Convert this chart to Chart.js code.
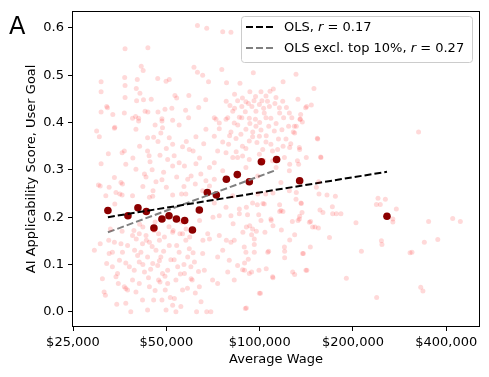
<!DOCTYPE html>
<html>
<head>
<meta charset="utf-8">
<script src="https://cdn.jsdelivr.net/npm/chart.js@4.4.0/dist/chart.umd.min.js"></script>
<style>
  body { margin: 0; background: #fff; }
  #wrap { width: 489px; height: 377px; }
</style>
</head>
<body>
<div id="wrap"><canvas id="chart" width="489" height="377"></canvas></div>
<script>
// occupations: [average wage in $k, AI applicability score]
const bgPoints = [
  [63,0.605],[67.5,0.599],[36.8,0.556],[43.6,0.558],[41.5,0.519],[42.1,0.510],[61.4,0.517],[63,0.506],[65.5,0.500],[68.4,0.486],
  [36.7,0.495],[40.3,0.491],[46.9,0.493],[49.9,0.487],[51.1,0.491],[30.8,0.465],[40,0.472],[41.1,0.462],[36.8,0.453],[40.1,0.446],
  [42.2,0.448],[44.7,0.449],[53.3,0.457],[54,0.452],[59.1,0.457],[67,0.448],[32.1,0.434],[30.8,0.422],[33.6,0.417],[36.6,0.420],
  [42.7,0.424],[43.6,0.422],[47,0.422],[49.5,0.428],[52.1,0.430],[57.7,0.426],[63.6,0.432],[38.9,0.409],[40.7,0.409],[48.4,0.408],
  [52.4,0.405],[30.8,0.486],[32.3,0.431],[34.1,0.390],[36.8,0.478],[39.8,0.413],[32.5,0.334],
  [76,0.592],[80.8,0.591],[75.5,0.512],[95.4,0.505],[131,0.502],[78.2,0.484],[86.4,0.483],[119,0.486],[110.7,0.471],[108,0.466],
  [101,0.465],[93,0.465],[83,0.460],[149.7,0.472],[104.8,0.456],[112.9,0.453],[84.9,0.446],[90.3,0.444],[95.9,0.446],[101.7,0.446],
  [118.7,0.445],[132.9,0.449],[80.2,0.436],[87.6,0.434],[94.4,0.434],[99.8,0.438],[107.5,0.434],[115.8,0.431],[141.8,0.434],[81.9,0.424],
  [89.9,0.423],[97.3,0.424],[103.5,0.420],[124.7,0.420],[135.6,0.417],[78.9,0.410],[86,0.411],[92.6,0.409],[108.7,0.409],[71.4,0.410],
  [140.7,0.431],[146.8,0.437],[135.3,0.407],[131.3,0.392],[137.3,0.401],[129.7,0.378],[153.5,0.367],[325.6,0.380],[125,0.347],[134.6,0.343],
  [157.3,0.327],[125,0.312],[132.4,0.319],[141.4,0.326],
  [240.9,0.240],[254.4,0.238],[238,0.227],[245,0.227],[276,0.217],[269,0.196],[269,0.190],[350.8,0.191],[419.5,0.197],[444,0.191],
  [204.5,0.188],[247,0.150],[248,0.142],[339.8,0.147],[375.5,0.153],[212.9,0.128],[305.6,0.125],[310,0.126],[190.4,0.071],[330.8,0.052],
  [336.3,0.044],[238.5,0.030],[168,0.157],[176.8,0.207],[172,0.207],[171.6,0.222],[156.5,0.215],[150.9,0.179],[154.7,0.177],[146,0.191],
  [142,0.088],[110.4,0.072],[129.7,0.079],[100.6,0.039],[90.6,0.008],[138.4,0.123],[145.7,0.137],[120.4,0.128],[120.4,0.114],[106.9,0.128],
  [105,0.091],[99.5,0.088],[94.2,0.084],[89.4,0.088],[91.9,0.111],[89.4,0.103],[125,0.152],[129.7,0.163],[117.5,0.173],[127.5,0.191],
  [133,0.193],[134.6,0.202],[137,0.210],[136.3,0.229],[160,0.210],[118.9,0.212],[116,0.212],[109,0.193],[99.3,0.205],[94.2,0.163],
  [96.1,0.142],[97.6,0.170],[104,0.168],[110.4,0.182],[92.9,0.182],[88.3,0.168],[116,0.226],[104.6,0.249],[110.4,0.251],[90.6,0.221],
  [98.3,0.226],[102.5,0.229],[131.3,0.252],[155.4,0.249],[164.9,0.247],[175.5,0.244],[152.4,0.263],
  [72.3,0.407],[77.9,0.407],[87.6,0.410],[96.9,0.407],[104.8,0.410],[119.5,0.410],[134.9,0.407],[129.4,0.392],[74.1,0.387],[80.8,0.380],
  [97.3,0.392],[101,0.384],[111.5,0.382],[128.4,0.380],[153.9,0.365],[71.4,0.371],[76,0.359],[83.9,0.366],[90.3,0.345],[94.9,0.370],
  [104.8,0.359],[121.6,0.365],[134.3,0.347],[73.2,0.340],[79.4,0.354],[84.9,0.326],[92.6,0.322],[120.2,0.326],[133.6,0.312],[157.7,0.326],
  [71.4,0.315],[76,0.298],[124.7,0.298],[155,0.275],[182.9,0.207],[94.9,0.230],[103.5,0.228],[71.4,0.230],[77.9,0.221],[86,0.217],
  [74.1,0.203],[80.8,0.203],[91.4,0.205],[101,0.193],[108.7,0.196],[117.1,0.214],[134.3,0.196],[144.7,0.189],[135.9,0.230],
  [74.1,0.399],[82.8,0.399],[90.3,0.386],[87,0.375],[92.6,0.361],[99.8,0.371],[102.3,0.343],[108.7,0.354],[114.3,0.343],[77.9,0.336],
  [81.9,0.326],[88.1,0.329],[99.8,0.333],[110.1,0.319],[71.4,0.280],[90.3,0.305],[98.6,0.287],[117.1,0.273],[124.7,0.256],[131,0.238],
  [81.9,0.245],[98.6,0.249],
  [29.8,0.382],[30.4,0.370],[34,0.388],[39.9,0.386],[40.7,0.403],[43.5,0.368],[45.5,0.369],[48.4,0.403],[48.6,0.389],[48,0.378],
  [51.1,0.368],[62.3,0.370],[67.1,0.386],[52.4,0.354],[56.4,0.349],[59.3,0.343],[43.5,0.340],[36.6,0.340],[36,0.336],[47.7,0.331],
  [50.5,0.322],[44.3,0.317],[30.8,0.313],[37,0.312],[52.4,0.308],[39.9,0.301],[57.2,0.308],[62.3,0.313],[68.9,0.305],[42.5,0.291],
  [43,0.285],[60.1,0.287],[64.6,0.291],[34,0.284],[35.7,0.273],[36.1,0.270],[30.2,0.268],[32.7,0.263],[46.3,0.275],[48.4,0.279],
  [58.6,0.280],[67.1,0.277],[68.9,0.266],[34.4,0.252],[36,0.247],[38.9,0.245],[44.1,0.242],[45.2,0.244],[52.4,0.247],[57.8,0.249],
  [65.5,0.256],[31.9,0.245],
  [29.3,0.130],[31.5,0.042],[31.8,0.035],[32.1,0.102],[32.7,0.123],[34,0.147],[34.4,0.074],[34.6,0.016],[34.8,0.081],[36.1,0.126],
  [36.6,0.053],[37,0.103],[37,0.049],[37.5,0.046],[38.4,0.000],[38.9,0.067],[39.4,0.088],[39.9,0.042],[40.4,0.119],[40.9,0.105],
  [41.4,0.126],[41.9,0.144],[41.9,0.025],[42.5,0.084],[43,0.161],[43.5,0.116],[44.1,0.147],[45.2,0.102],[45.5,0.025],[46.3,0.130],
  [47.2,0.067],[47.7,0.063],[48,0.116],[48.4,0.025],[49.3,0.158],[49.6,0.046],[50.5,0.088],[51.1,0.140],[51.7,0.110],[52.4,0.014],
  [53.1,0.028],[53.7,0.067],[54.4,0.095],[55,0.126],[55.7,0.011],[56.4,0.046],[57.2,0.081],[57.8,0.151],[59.3,0.133],[60.1,0.070],
  [60.6,0.067],[61.6,0.105],[62.6,0.000],[63.9,0.053],[64.7,0.021],[65.5,0.123],[66.3,0.088],[67.5,0.000],[68.9,0.154],[69.6,0.000],
  [70.5,0.067],[73.2,0.060],[74.1,0.161],[73.2,0.116],[78.9,0.084],[80.8,0.147],[82.8,0.151],[84.9,0.098],[88.1,0.089],[90.3,0.126],
  [89.2,0.137],[89.9,0.007],[92.6,0.081],[94.9,0.175],[96.1,0.154],[99.8,0.039],[106.2,0.126],[110.1,0.074],[120.2,0.137],[127.8,0.084],
  [137.6,0.123],[141,0.088],[148.2,0.179],
  [35.3,0.109],[38.9,0.161],[40.9,0.165],[45.7,0.172],[47.5,0.151],[52.4,0.168],[56.4,0.165],[58.6,0.116],[44.1,0.053],[46.9,0.098],
  [48.6,0.081],[40.9,0.060],[37,0.018],[49.9,0.004],[53.7,0.000],[43.5,0.004],[68,0.165],[76,0.130],[79.8,0.109],[82.8,0.067],
  [96.1,0.126],[33.5,0.095],[35.7,0.144],[31.1,0.070],
  [30.6,0.266],[34.1,0.228],[30.6,0.144],[32.6,0.151],[33.5,0.126],[39.3,0.172],[42,0.179],[40,0.154],[43.1,0.151],[47.2,0.165],
  [52.6,0.172],[55.3,0.165],[57.9,0.175],[65.6,0.151],[64,0.193],[70.7,0.200],[78.1,0.151],[82.1,0.186],[86,0.207],[90.6,0.179],
  [35.4,0.249],[45.3,0.256],[50,0.263],[56,0.249],
  // denser clusters, estimated
  [78,0.445],[83,0.430],[88,0.452],[92,0.440],[97,0.455],[103,0.430],[106,0.445],[112,0.440],[116,0.420],[122,0.432],
  [127,0.410],[85,0.395],[93,0.398],[100,0.400],[107,0.392],[113,0.398],[118,0.385],[124,0.392],[80,0.372],[95,0.380],
  [105,0.372],[115,0.365],[126,0.355],[88,0.350],[98,0.358],[110,0.340],[119,0.350],[84,0.338],[103,0.320],[113,0.305],
  [35,0.060],[38,0.095],[39.5,0.130],[42,0.100],[43.8,0.072],[45,0.138],[46,0.045],[47.5,0.108],[49,0.128],[50.5,0.060],
  [51.5,0.030],[53,0.110],[54,0.140],[55.5,0.080],[57,0.100],[58.5,0.050],[59.5,0.158],[61,0.125],[62,0.040],[63.5,0.085],
  [36,0.170],[41,0.185],[46,0.190],[51,0.180],[56,0.190],[33,0.175],[37.5,0.140],[44.5,0.090],[49.5,0.075],[60,0.095],
  [41,0.350],[44,0.330],[47,0.360],[50,0.345],[53,0.330],[55,0.315],[58,0.360],[61,0.340],[64,0.325],[66,0.355],
  [45,0.300],[49,0.295],[54,0.285],[57,0.265],[62,0.270],[39,0.325],[42,0.265],[46,0.395],[55,0.395],[59,0.410]
];

// binned means (dark red dots)
const binWage = [32.4, 37.6, 40.5, 43.1, 45.6, 48.4, 51.0, 53.9, 57.3, 60.7, 63.9, 67.8, 72.5, 78.1, 84.7, 92.6, 101.3, 113.4, 134.6, 257.5];
const binScore = [0.214, 0.203, 0.220, 0.212, 0.177, 0.196, 0.203, 0.196, 0.193, 0.173, 0.215, 0.252, 0.247, 0.280, 0.290, 0.275, 0.317, 0.322, 0.277, 0.202];

// fitted lines, end points
const olsWage = [32.4, 257.5];
const olsScore = [0.200, 0.296];
const olsExclWage = [32.4, 113.4];
const olsExclScore = [0.168, 0.300];

const xTicks = [25000, 50000, 100000, 200000, 400000];
const yTicks = [0, 0.1, 0.2, 0.3, 0.4, 0.5, 0.6];

const toXY = (ws, ys) => ws.map((w, i) => ({ x: w * 1000, y: ys[i] }));
const FAMILY = '"DejaVu Sans", sans-serif';
const font = { family: FAMILY, size: 13 };

function drawParts(ctx, parts, x, y) {
  parts.forEach(([txt, italic]) => {
    ctx.font = (italic ? 'italic ' : '') + '13px ' + FAMILY;
    ctx.fillText(txt, x, y);
    x += ctx.measureText(txt).width;
  });
}

const overlay = {
  id: 'overlay',
  afterDraw(chart) {
    const ctx = chart.ctx, a = chart.chartArea;
    ctx.save();
    ctx.strokeStyle = '#000';
    ctx.lineWidth = 1;
    ctx.strokeRect(Math.round(a.left) - 0.5, Math.round(a.top) - 0.5,
      Math.round(a.right - a.left) + 1, Math.round(a.bottom - a.top) + 1);

    ctx.fillStyle = '#000';
    ctx.font = '24px ' + FAMILY;
    ctx.textBaseline = 'alphabetic';
    ctx.fillText('A', 9, 34);

    // legend
    ctx.beginPath();
    ctx.roundRect(241.5, 16.5, 231, 46, 3);
    ctx.fillStyle = 'rgba(255,255,255,0.8)';
    ctx.fill();
    ctx.strokeStyle = '#cccccc';
    ctx.stroke();

    const rows = [
      { y: 27, color: '#000', parts: [['OLS, ', false], ['r', true], [' = 0.17', false]] },
      { y: 48, color: '#808080', parts: [['OLS excl. top 10%, ', false], ['r', true], [' = 0.27', false]] }
    ];
    rows.forEach(r => {
      ctx.beginPath();
      ctx.setLineDash([7, 3]);
      ctx.lineWidth = 2;
      ctx.strokeStyle = r.color;
      ctx.moveTo(246, r.y);
      ctx.lineTo(274, r.y);
      ctx.stroke();
      ctx.setLineDash([]);
      ctx.fillStyle = '#000';
      ctx.textBaseline = 'middle';
      drawParts(ctx, r.parts, 284, r.y + 0.5);
    });
    ctx.restore();
  }
};

new Chart(document.getElementById('chart'), {
  type: 'scatter',
  data: {
    datasets: [
      {
        label: 'occupations',
        data: bgPoints.map(p => ({ x: p[0] * 1000, y: p[1] })),
        pointRadius: 2.5,
        pointBackgroundColor: 'rgba(255,0,0,0.15)',
        pointBorderWidth: 0
      },
      {
        type: 'line',
        label: 'OLS',
        data: toXY(olsWage, olsScore),
        borderColor: '#000',
        borderWidth: 2,
        borderDash: [7, 3],
        pointRadius: 0,
        fill: false
      },
      {
        type: 'line',
        label: 'OLS excl. top 10%',
        data: toXY(olsExclWage, olsExclScore),
        borderColor: '#808080',
        borderWidth: 2,
        borderDash: [7, 3],
        pointRadius: 0,
        fill: false
      },
      {
        label: 'binned',
        data: toXY(binWage, binScore),
        pointRadius: 3.8,
        pointBackgroundColor: '#8b0000',
        pointBorderWidth: 0
      }
    ]
  },
  options: {
    responsive: false,
    animation: false,
    devicePixelRatio: 1,
    layout: { padding: { left: 0, right: 10, top: 10, bottom: 0 } },
    plugins: { legend: { display: false }, tooltip: { enabled: false } },
    scales: {
      x: {
        type: 'logarithmic',
        min: 25000,
        max: 510000,
        afterBuildTicks: s => { s.ticks = xTicks.map(v => ({ value: v })); },
        afterFit: s => { s.height = 51; },
        grid: { display: true, drawOnChartArea: false, drawTicks: true, tickLength: 5, tickColor: '#000', tickWidth: 1 },
        border: { display: false },
        ticks: {
          font, color: '#000', padding: 4, maxRotation: 0, autoSkip: false,
          callback: v => '$' + Number(v).toLocaleString('en-US')
        },
        title: { display: true, text: 'Average Wage', font, color: '#000', padding: 10 }
      },
      y: {
        min: -0.03,
        max: 0.634,
        afterBuildTicks: s => { s.ticks = yTicks.map(v => ({ value: v })); },
        afterFit: s => { s.width = 73; },
        grid: { display: true, drawOnChartArea: false, drawTicks: true, tickLength: 5, tickColor: '#000', tickWidth: 1 },
        border: { display: false },
        ticks: { font, color: '#000', padding: 4, callback: v => Number(v).toFixed(1) },
        title: { display: true, text: 'AI Applicability Score, User Goal', font, color: '#000', padding: 24 }
      }
    }
  },
  plugins: [overlay]
});
</script>
</body>
</html>
